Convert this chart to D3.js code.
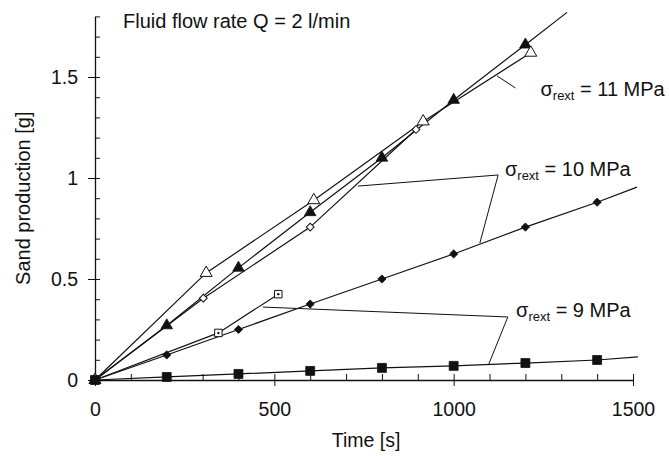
<!DOCTYPE html>
<html>
<head>
<meta charset="utf-8">
<script src="https://cdn.jsdelivr.net/npm/d3@7"></script>
<style>
  html, body { margin: 0; padding: 0; background: #fff; }
  svg { display: block; font-family: "Liberation Sans", Arial, sans-serif; }
</style>
</head>
<body>
<svg id="chart" width="669" height="456"></svg>
<script>
// Sand production versus time at a fluid flow rate of 2 l/min
const xTicks = [0, 500, 1000, 1500];
const yTicks = [0, 0.5, 1, 1.5];
const yTickLabels = ["0", "0.5", "1", "1.5"];

// sigma_rext = 11 MPa (triangles)
const tri11FilledT = [0, 200, 400, 600, 800, 1000, 1200];
const tri11FilledV = [0, 0.27, 0.555, 0.83, 1.10, 1.386, 1.66];
const tri11FitEnd = [1316, 1.82];
const tri11OpenT = [0, 310, 610, 915, 1215];
const tri11OpenV = [0, 0.53, 0.89, 1.28, 1.62];

// sigma_rext = 10 MPa (diamonds)
const dia10OpenT = [0, 302, 600, 895];
const dia10OpenV = [0, 0.405, 0.757, 1.24];
const dia10FilledT = [0, 200, 400, 600, 800, 1000, 1200, 1400];
const dia10FilledV = [0, 0.124, 0.25, 0.376, 0.50, 0.624, 0.757, 0.88];
const dia10FitEnd = [1511, 0.955];

// sigma_rext = 9 MPa (squares)
const sq9OpenT = [0, 344, 511];
const sq9OpenV = [0, 0.233, 0.425];
const sq9FilledT = [0, 200, 400, 600, 800, 1000, 1200, 1400];
const sq9FilledV = [0, 0.015, 0.03, 0.045, 0.06, 0.07, 0.084, 0.099];
const sq9FitEnd = [1514, 0.114];

// Label callouts: text anchor, leader vertex, leader end(s) in data units
const labelText = ["11 MPa", "10 MPa", "9 MPa"];
const labelAt = [[1242, 1.406], [1143, 1.010], [1174, 0.312]];
const leaderFrom = [[1172, 1.446], [1124, 1.015], [1151, 0.312]];
const leaderTo = [
  [[1121, 1.505]],
  [[733, 0.960], [1073, 0.678]],
  [[468, 0.361], [1098, 0.079]]
];

const svg = d3.select("#chart");
const x = d3.scaleLinear().domain([0, 1500]).range([95, 633]);
const y = d3.scaleLinear().domain([0, 1.8]).range([380, 16.4]);

const ink = "#111";
const fs = 19.5;
const font = "Liberation Sans, Arial, sans-serif";

// Axes: major ticks cross the axis line, minor ticks point inward
const minorX = d3.range(0, 1501, 100);
const minorY = d3.range(0, 1.801, 0.1);

svg.append("g").attr("transform", `translate(0,${y(0)})`)
  .call(d3.axisBottom(x).tickValues(minorX).tickSize(-6).tickSizeOuter(0).tickFormat(""))
  .call(g => g.select(".domain").attr("stroke", ink).attr("stroke-width", 1.3))
  .call(g => g.selectAll("line").attr("stroke", ink));
svg.append("g").attr("transform", `translate(0,${y(0)})`)
  .call(d3.axisBottom(x).tickValues(xTicks).tickSize(6).tickSizeOuter(0).tickPadding(16)
    .tickFormat(d3.format("d")))
  .call(g => g.select(".domain").remove())
  .call(g => g.selectAll("line").attr("stroke", ink))
  .call(g => g.selectAll("text").attr("font-size", fs).attr("fill", ink).attr("font-family", font));

svg.append("g").attr("transform", `translate(${x(0)},0)`)
  .call(d3.axisLeft(y).tickValues(minorY).tickSize(-5).tickSizeOuter(0).tickFormat(""))
  .call(g => g.select(".domain").attr("stroke", ink).attr("stroke-width", 1.3))
  .call(g => g.selectAll("line").attr("stroke", ink));
svg.append("g").attr("transform", `translate(${x(0)},0)`)
  .call(d3.axisLeft(y).tickValues(yTicks).tickSize(7).tickSizeOuter(0).tickPadding(10)
    .tickFormat((d, i) => yTickLabels[i]))
  .call(g => g.select(".domain").remove())
  .call(g => g.selectAll("line").attr("stroke", ink))
  .call(g => g.selectAll("text").attr("font-size", fs).attr("fill", ink).attr("font-family", font));

// Axis titles and heading
svg.append("text").attr("x", 366).attr("y", 447)
  .attr("text-anchor", "middle").attr("font-size", 19.5).attr("fill", ink).text("Time [s]");
svg.append("text").attr("transform", `translate(30,${(y(0) + y(1.8)) / 2}) rotate(-90)`)
  .attr("text-anchor", "middle").attr("font-size", 20).attr("fill", ink).text("Sand production [g]");
svg.append("text").attr("x", 123).attr("y", 28)
  .attr("font-size", 20).attr("fill", ink).text("Fluid flow rate Q = 2 l/min");

// Lines
const line = d3.line().x(d => x(d[0])).y(d => y(d[1]));
const zip = (t, v) => t.map((d, i) => [d, v[i]]);
const series = [
  { pts: zip(tri11FilledT, tri11FilledV), end: tri11FitEnd, shape: "tri", fill: true },
  { pts: zip(tri11OpenT, tri11OpenV), end: null, shape: "tri", fill: false },
  { pts: zip(dia10OpenT, dia10OpenV), end: null, shape: "dia", fill: false },
  { pts: zip(dia10FilledT, dia10FilledV), end: dia10FitEnd, shape: "dia", fill: true },
  { pts: zip(sq9OpenT, sq9OpenV), end: null, shape: "sq", fill: false },
  { pts: zip(sq9FilledT, sq9FilledV), end: sq9FitEnd, shape: "sq", fill: true }
];

const lines = svg.append("g").attr("fill", "none").attr("stroke", ink).attr("stroke-width", 1.2);
series.forEach(s => {
  const p = s.end ? s.pts.concat([s.end]) : s.pts;
  lines.append("path").attr("d", line(p));
});

// Markers (diamonds are squares turned by 45 degrees)
const symType = { tri: d3.symbolTriangle, dia: d3.symbolSquare, sq: d3.symbolSquare };
const symSize = { tri: 58, dia: 34, sq: 80 };
const openSize = { tri: 62, dia: 30, sq: 56 };
const marks = svg.append("g");
series.forEach(s => {
  const sym = d3.symbol().type(symType[s.shape]).size(s.fill ? symSize[s.shape] : openSize[s.shape]);
  const rot = s.shape === "dia" ? " rotate(45)" : "";
  marks.selectAll(null).data(s.pts).join("path")
    .attr("transform", d => `translate(${x(d[0])},${y(d[1])})${rot}`)
    .attr("d", sym)
    .attr("fill", s.fill ? ink : "#fff")
    .attr("stroke", ink)
    .attr("stroke-width", s.fill ? 0.8 : 1);
  if (s.shape === "sq" && !s.fill) {
    marks.selectAll(null).data(s.pts.slice(1)).join("circle")
      .attr("cx", d => x(d[0])).attr("cy", d => y(d[1])).attr("r", 1.2).attr("fill", ink);
  }
});

// Callout labels with leader lines
const leaders = svg.append("g").attr("stroke", ink).attr("stroke-width", 1).attr("fill", "none");
labelText.forEach((t, i) => {
  leaderTo[i].forEach(e => {
    leaders.append("line")
      .attr("x1", x(leaderFrom[i][0])).attr("y1", y(leaderFrom[i][1]))
      .attr("x2", x(e[0])).attr("y2", y(e[1]));
  });
  const tx = svg.append("text").attr("x", x(labelAt[i][0])).attr("y", y(labelAt[i][1]))
    .attr("font-size", 20).attr("fill", ink);
  tx.append("tspan").text("σ");
  tx.append("tspan").attr("font-size", 13).attr("dy", 4).text("rext");
  tx.append("tspan").attr("dy", -4).text(" = " + t);
});
</script>
</body>
</html>
